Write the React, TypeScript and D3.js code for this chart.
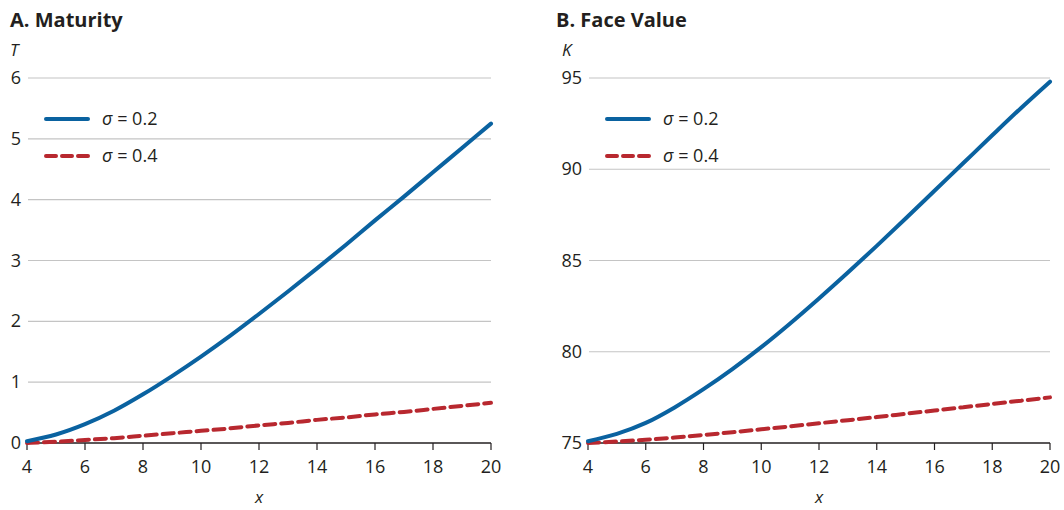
import React from "react";
import * as d3 from "d3";

const xValues = [4, 5, 6, 7, 8, 9, 10, 11, 12, 13, 14, 15, 16, 17, 18, 19, 20];
const maturitySigma02 = [0.03, 0.14, 0.31, 0.53, 0.8, 1.1, 1.42, 1.76, 2.12, 2.49, 2.87, 3.26, 3.66, 4.05, 4.45, 4.85, 5.25];
const maturitySigma04 = [0.0, 0.02, 0.05, 0.08, 0.12, 0.16, 0.2, 0.24, 0.29, 0.33, 0.38, 0.42, 0.47, 0.51, 0.56, 0.61, 0.66];
const faceSigma02 = [75.1, 75.5, 76.1, 76.95, 77.95, 79.05, 80.25, 81.55, 82.92, 84.34, 85.8, 87.3, 88.82, 90.34, 91.86, 93.36, 94.8];
const faceSigma04 = [75.0, 75.08, 75.18, 75.3, 75.44, 75.59, 75.75, 75.91, 76.08, 76.25, 76.42, 76.6, 76.78, 76.96, 77.14, 77.32, 77.5];
const xTicks = [4, 6, 8, 10, 12, 14, 16, 18, 20];
const maturityTicks = [0, 1, 2, 3, 4, 5, 6];
const faceTicks = [75, 80, 85, 90, 95];
const legendLabels = ["σ = 0.2", "σ = 0.4"];

const BLUE = "#0a62a0";
const RED = "#b8282f";
const FONT = "'Open Sans', 'Noto Sans', sans-serif";

type PanelProps = {
  title: string;
  yLabel: string;
  x0: number;
  x1: number;
  yDomain: [number, number];
  yTicks: number[];
  s1: number[];
  s2: number[];
  titleX: number;
  yLabelX: number;
};

function Panel({ title, yLabel, x0, x1, yDomain, yTicks, s1, s2, titleX, yLabelX }: PanelProps) {
  const xs = d3.scaleLinear().domain([4, 20]).range([x0, x1]);
  const ys = d3.scaleLinear().domain(yDomain).range([443, 78]);
  const line = (vals: number[]) =>
    d3
      .line<number>()
      .x((_, i) => xs(xValues[i]))
      .y((v) => ys(v))
      .curve(d3.curveMonotoneX)(vals) || "";
  const legendX = x0 + 19;
  return (
    <g>
      <text x={titleX} y={27} fontSize={20} fontWeight={700} fill="#231f20" fontFamily={FONT}>
        {title}
      </text>
      <text x={yLabelX} y={56} fontSize={17} fontStyle="italic" fill="#231f20" fontFamily={FONT}>
        {yLabel}
      </text>
      {yTicks.map((t) => (
        <g key={t}>
          {t !== yDomain[0] && (
            <line x1={x0 + 1} x2={x1} y1={ys(t)} y2={ys(t)} stroke="#c4c4c4" strokeWidth={1.2} />
          )}
          <text x={x0 - 6} y={ys(t) + 6} fontSize={18} textAnchor="end" fill="#231f20" fontFamily={FONT}>
            {t}
          </text>
        </g>
      ))}
      <line x1={x0} x2={x1} y1={443} y2={443} stroke="#231f20" strokeWidth={1.3} />
      {xTicks.map((t) => (
        <g key={t}>
          <line x1={xs(t)} x2={xs(t)} y1={443} y2={450} stroke="#231f20" strokeWidth={1.2} />
          <text x={xs(t)} y={473} fontSize={18} textAnchor="middle" fill="#231f20" fontFamily={FONT}>
            {t}
          </text>
        </g>
      ))}
      <text x={(x0 + x1) / 2} y={503} fontSize={17} fontStyle="italic" textAnchor="middle" fill="#231f20" fontFamily={FONT}>
        x
      </text>
      <path d={line(s2)} fill="none" stroke={RED} strokeWidth={4} strokeDasharray="11,6" strokeLinecap="round" />
      <path d={line(s1)} fill="none" stroke={BLUE} strokeWidth={4} strokeLinecap="round" />
      <line x1={legendX} x2={legendX + 42} y1={119} y2={119} stroke={BLUE} strokeWidth={4} strokeLinecap="round" />
      <line x1={legendX} x2={legendX + 42} y1={156} y2={156} stroke={RED} strokeWidth={4} strokeDasharray="10,6" strokeLinecap="round" />
      {legendLabels.map((l, i) => (
        <text key={l} x={legendX + 56} y={125 + i * 37} fontSize={18} fill="#231f20" fontFamily={FONT}>
          <tspan fontStyle="italic">σ</tspan>
          {l.slice(1)}
        </text>
      ))}
    </g>
  );
}

export default function App() {
  return (
    <svg width={1064} height={510} style={{ position: "absolute", left: 0, top: 0, background: "#fff" }}>
      <Panel
        title="A. Maturity"
        yLabel="T"
        x0={27}
        x1={491}
        yDomain={[0, 6]}
        yTicks={maturityTicks}
        s1={maturitySigma02}
        s2={maturitySigma04}
        titleX={10}
        yLabelX={10}
      />
      <Panel
        title="B. Face Value"
        yLabel="K"
        x0={588}
        x1={1050}
        yDomain={[75, 95]}
        yTicks={faceTicks}
        s1={faceSigma02}
        s2={faceSigma04}
        titleX={556}
        yLabelX={562}
      />
    </svg>
  );
}
